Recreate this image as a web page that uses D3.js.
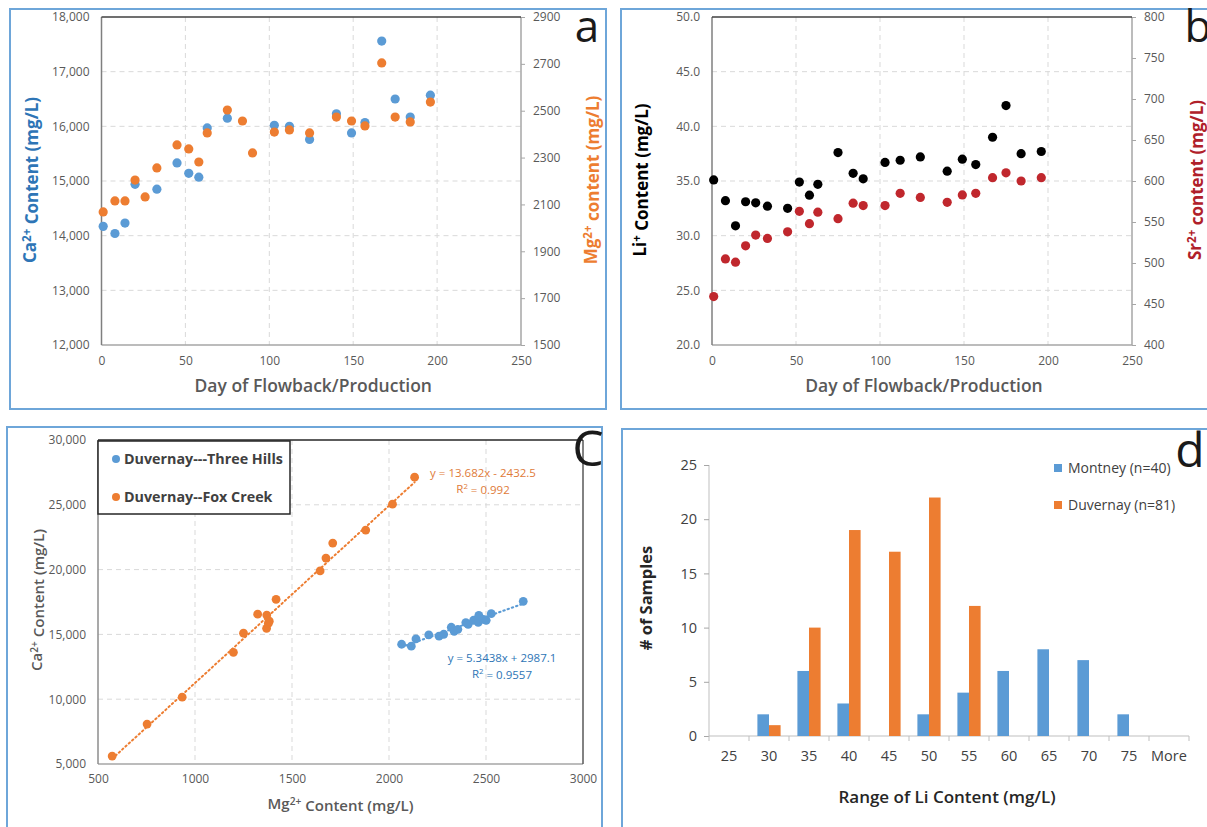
<!DOCTYPE html>
<html>
<head>
<meta charset="utf-8">
<script src="https://cdn.jsdelivr.net/npm/d3@7"></script>
<style>
  body { margin: 0; background: #fff; }
  svg text { font-family: "Open Sans", "Noto Sans", sans-serif; }
</style>
</head>
<body>
<div id="fig"></div>
<script>
// ---- panels a & b: day of flowback/production ----
const days = [1, 8, 14, 20, 26, 33, 45, 52, 58, 63, 75, 84, 90, 103, 112, 124, 140, 149, 157, 167, 175, 184, 196];
// null = point hidden behind the orange marker in the original
const caByDay = [14170, 14040, 14230, 14940, null, 14850, 15330, 15140, 15070, 15970, 16150, null, null, 16020, 16000, 15760, 16230, 15880, 16070, 17560, 16500, 16170, 16570];
const mgByDay = [2068, 2115, 2115, 2204, 2132, 2256, 2354, 2337, 2281, 2405, 2503, 2456, 2320, 2409, 2418, 2405, 2473, 2456, 2435, 2704, 2473, 2452, 2537];
const liByDay = [35.1, 33.2, 30.9, 33.1, 33.0, 32.7, 32.5, 34.9, 33.7, 34.7, 37.6, 35.7, 35.2, 36.7, 36.9, 37.2, 35.9, 37.0, 36.5, 39.0, 41.9, 37.5, 37.7];
const srByDay = [459, 505, 501, 521, 534, 530, 538, 563, 548, 562, 554, 573, 570, 570, 585, 580, 574, 583, 585, 604, 610, 600, 604];

// ---- panel c: Ca vs Mg ----
const threeHillsMg = [2065, 2115, 2139, 2205, 2258, 2282, 2321, 2336, 2355, 2396, 2408, 2436, 2460, 2463, 2486, 2501, 2527, 2692];
const threeHillsCa = [14240, 14090, 14650, 14960, 14860, 15010, 15550, 15240, 15390, 15910, 15780, 16090, 15930, 16470, 16160, 16090, 16600, 17550];
const foxCreekMg = [573, 753, 934, 1198, 1250, 1323, 1369, 1370, 1378, 1383, 1418, 1645, 1675, 1710, 1880, 2018, 2132];
const foxCreekCa = [5610, 8080, 10160, 13620, 15090, 16560, 15470, 16490, 15850, 16020, 17710, 19900, 20890, 22050, 23050, 25050, 27130];
const threeHillsFit = { slope: 5.3438, intercept: 2987.1, label: "y = 5.3438x + 2987.1", r2: "0.9557" };
const foxCreekFit = { slope: 13.682, intercept: -2432.5, label: "y = 13.682x - 2432.5", r2: "0.992" };

// ---- panel d: Li histogram ----
const liBins = ["25", "30", "35", "40", "45", "50", "55", "60", "65", "70", "75", "More"];
const montneyCounts = [0, 2, 6, 3, 0, 2, 4, 6, 8, 7, 2, 0];
const duvernayCounts = [0, 1, 10, 19, 17, 22, 12, 0, 0, 0, 0, 0];

const BLUE = "#5b9bd5", ORANGE = "#ed7d31", RED = "#c0272d";
const FRAME = "#6ea6d9", GRID = "#d9d9d9", TXT = "#595959";

const svg = d3.select("#fig").append("svg").attr("width", 1207).attr("height", 827);

// text with superscript parts, e.g. [["Ca"], ["2+", true], [" Content"]]
function richText(g, x, y, parts, opts) {
  const t = g.append("text")
    .attr("transform", `translate(${x},${y}) rotate(${opts.rotate || 0})`)
    .attr("text-anchor", "middle")
    .attr("font-size", opts.size)
    .attr("font-weight", opts.weight || 400)
    .attr("fill", opts.color || TXT);
  let raised = false;
  parts.forEach(([s, sup]) => {
    const sp = t.append("tspan").text(s);
    if (sup && !raised) { sp.attr("dy", "-0.42em").attr("font-size", "68%"); raised = true; }
    else if (sup) sp.attr("font-size", "68%");
    else if (raised) { sp.attr("dy", "0.42em"); raised = false; }
  });
  return t;
}

function frame(x, y, w, h) {
  svg.append("rect").attr("x", x).attr("y", y).attr("width", w).attr("height", h)
    .attr("fill", "none").attr("stroke", FRAME).attr("stroke-width", 2);
}

function styleAxis(sel, size, color) {
  sel.select(".domain").remove();
  sel.selectAll(".tick line").attr("stroke", "#a6a6a6");
  sel.selectAll(".tick text").attr("font-size", size).attr("fill", color)
    .attr("font-family", '"Open Sans", sans-serif');
}

// plot frame lines: top/right dark, left/bottom grey (as in the Excel export)
function plotBorder(g, L, R, T, B, topC, leftC, rightC, bottomC) {
  g.append("line").attr("x1", L).attr("x2", R).attr("y1", B).attr("y2", B).attr("stroke", bottomC).attr("stroke-width", 1.5);
  g.append("line").attr("x1", R).attr("x2", R).attr("y1", T).attr("y2", B).attr("stroke", rightC).attr("stroke-width", 1.5);
  g.append("line").attr("x1", L).attr("x2", L).attr("y1", T).attr("y2", B).attr("stroke", leftC).attr("stroke-width", 1.5);
  g.append("line").attr("x1", L).attr("x2", R).attr("y1", T).attr("y2", T).attr("stroke", topC).attr("stroke-width", 1.5);
}

function dualScatter(o) {
  const g = svg.append("g");
  const x = d3.scaleLinear().domain([0, 250]).range([o.L, o.R]);
  const yL = d3.scaleLinear().domain(o.leftDomain).range([o.B, o.T]);
  const yR = d3.scaleLinear().domain(o.rightDomain).range([o.B, o.T]);

  g.append("g").selectAll("line").data(x.ticks(5).filter(v => v > 0 && v < 250)).join("line")
    .attr("x1", d => x(d)).attr("x2", d => x(d)).attr("y1", o.T).attr("y2", o.B)
    .attr("stroke", GRID).attr("stroke-dasharray", "5,4");
  g.append("g").selectAll("line").data(o.leftTicks.slice(1, -1)).join("line")
    .attr("x1", o.L).attr("x2", o.R).attr("y1", d => yL(d)).attr("y2", d => yL(d))
    .attr("stroke", GRID).attr("stroke-dasharray", "5,4");

  plotBorder(g, o.L, o.R, o.T, o.B, "#404040", "#7f7f7f", "#a6a6a6", "#a6a6a6");

  g.append("g").call(d3.axisLeft(yL).tickValues(o.leftTicks).tickSize(0).tickPadding(12).tickFormat(o.leftFormat))
    .attr("transform", `translate(${o.L},0)`).call(s => styleAxis(s, 12, TXT));
  g.append("g").call(d3.axisRight(yR).tickValues(o.rightTicks).tickSize(4).tickPadding(8).tickFormat(d3.format("d")))
    .attr("transform", `translate(${o.R},0)`).call(s => styleAxis(s, 12, TXT));
  g.append("g").call(d3.axisBottom(x).ticks(5).tickSize(0).tickPadding(11))
    .attr("transform", `translate(0,${o.B})`).call(s => styleAxis(s, 12, TXT));

  const s1 = days.map((d, i) => ({ d, v: o.leftValues[i] })).filter(p => p.v != null);
  const s2 = days.map((d, i) => ({ d, v: o.rightValues[i] })).filter(p => p.v != null);
  g.append("g").selectAll("circle").data(s1).join("circle")
    .attr("cx", p => x(p.d)).attr("cy", p => yL(p.v)).attr("r", 4.6).attr("fill", o.leftColor);
  g.append("g").selectAll("circle").data(s2).join("circle")
    .attr("cx", p => x(p.d)).attr("cy", p => yR(p.v)).attr("r", 4.6).attr("fill", o.rightColor);

  g.append("text").attr("x", (o.L + o.R) / 2 + 2).attr("y", 392).attr("text-anchor", "middle")
    .attr("font-size", 17.5).attr("font-weight", 600).attr("fill", TXT).text("Day of Flowback/Production");
  richText(g, o.leftTitleX, 180, o.leftTitle, { rotate: -90, size: 17, weight: 700, color: o.leftTitleColor });
  richText(g, o.rightTitleX, 180, o.rightTitle, { rotate: -90, size: 17, weight: 700, color: o.rightTitleColor });
  g.append("text").attr("x", o.R + 66).attr("y", 42).attr("text-anchor", "middle")
    .attr("font-size", 44).attr("fill", "#1a1a1a").text(o.letter);
}

// ---------- panel a ----------
frame(10, 9, 596, 400);
dualScatter({
  L: 101.5, R: 521, T: 17, B: 345,
  leftDomain: [12000, 18000], rightDomain: [1500, 2900],
  leftTicks: d3.range(12000, 18001, 1000), rightTicks: d3.range(1500, 2901, 200),
  leftFormat: d3.format(","),
  leftValues: caByDay, rightValues: mgByDay,
  leftColor: BLUE, rightColor: ORANGE,
  leftTitle: [["Ca"], ["2+", true], [" Content (mg/L)"]], leftTitleX: 36, leftTitleColor: "#2e75b6",
  rightTitle: [["Mg"], ["2+", true], [" content (mg/L)"]], rightTitleX: 597, rightTitleColor: ORANGE,
  letter: "a"
});

// ---------- panel b ----------
frame(621, 9, 600, 400);
dualScatter({
  L: 712, R: 1132, T: 17, B: 345,
  leftDomain: [20, 50], rightDomain: [400, 800],
  leftTicks: d3.range(20, 50.1, 5), rightTicks: d3.range(400, 801, 50),
  leftFormat: d3.format(".1f"),
  leftValues: liByDay, rightValues: srByDay,
  leftColor: "#000", rightColor: RED,
  leftTitle: [["Li"], ["+", true], [" Content (mg/L)"]], leftTitleX: 646, leftTitleColor: "#000",
  rightTitle: [["Sr"], ["2+", true], [" content (mg/L)"]], rightTitleX: 1201, rightTitleColor: "#b0202a",
  letter: "b"
});

// ---------- panel c ----------
frame(7, 427, 595, 420);
(function () {
  const g = svg.append("g");
  const L = 98, R = 583, T = 440, B = 764;
  const x = d3.scaleLinear().domain([500, 3000]).range([L, R]);
  const y = d3.scaleLinear().domain([5000, 30000]).range([B, T]);

  g.append("g").selectAll("line").data(d3.range(1000, 2501, 500)).join("line")
    .attr("x1", d => x(d)).attr("x2", d => x(d)).attr("y1", T).attr("y2", B)
    .attr("stroke", GRID).attr("stroke-dasharray", "5,4");
  g.append("g").selectAll("line").data(d3.range(10000, 25001, 5000)).join("line")
    .attr("x1", L).attr("x2", R).attr("y1", d => y(d)).attr("y2", d => y(d))
    .attr("stroke", GRID).attr("stroke-dasharray", "5,4");
  plotBorder(g, L, R, T, B, "#262626", "#8c8c8c", "#595959", "#a6a6a6");

  g.append("g").attr("transform", `translate(${L},0)`)
    .call(d3.axisLeft(y).tickValues(d3.range(5000, 30001, 5000)).tickSize(0).tickPadding(12).tickFormat(d3.format(",")))
    .call(s => styleAxis(s, 12, TXT));
  g.append("g").attr("transform", `translate(0,${B})`)
    .call(d3.axisBottom(x).tickValues(d3.range(500, 3001, 500)).tickSize(0).tickPadding(10).tickFormat(d3.format("d")))
    .call(s => styleAxis(s, 12, TXT));

  const fits = [
    { mg: threeHillsMg, fit: threeHillsFit, color: BLUE },
    { mg: foxCreekMg, fit: foxCreekFit, color: ORANGE }
  ];
  fits.forEach(f => {
    const ext = d3.extent(f.mg);
    g.append("path")
      .attr("d", d3.line()(ext.map(v => [x(v), y(f.fit.slope * v + f.fit.intercept)])))
      .attr("stroke", f.color).attr("stroke-width", 2).attr("stroke-dasharray", "1.5,3")
      .attr("stroke-linecap", "round").attr("fill", "none");
  });

  g.append("g").selectAll("circle").data(threeHillsMg.map((m, i) => [m, threeHillsCa[i]])).join("circle")
    .attr("cx", d => x(d[0])).attr("cy", d => y(d[1])).attr("r", 4.4).attr("fill", BLUE);
  g.append("g").selectAll("circle").data(foxCreekMg.map((m, i) => [m, foxCreekCa[i]])).join("circle")
    .attr("cx", d => x(d[0])).attr("cy", d => y(d[1])).attr("r", 4.4).attr("fill", ORANGE);

  // equations
  const eq = [
    { fit: foxCreekFit, cx: 483, cy: 477, color: "#e07b39" },
    { fit: threeHillsFit, cx: 502, cy: 662, color: "#2e75b6" }
  ];
  eq.forEach(e => {
    g.append("text").attr("x", e.cx).attr("y", e.cy).attr("text-anchor", "middle")
      .attr("font-size", 11.5).attr("fill", e.color).text(e.fit.label);
    richText(g, e.cx, e.cy + 15.5, [["R"], ["2", true], [" = " + e.fit.r2]], { size: 11.5, color: e.color });
  });

  // legend
  g.append("rect").attr("x", 98).attr("y", 441).attr("width", 192).attr("height", 73)
    .attr("fill", "#fff").attr("stroke", "#262626").attr("stroke-width", 1.5);
  [["Duvernay---Three Hills", BLUE, 459], ["Duvernay--Fox Creek", ORANGE, 497]].forEach(([name, c, yy]) => {
    g.append("circle").attr("cx", 116).attr("cy", yy).attr("r", 4).attr("fill", c);
    g.append("text").attr("x", 124).attr("y", yy + 5).attr("font-size", 14.3).attr("font-weight", 700)
      .attr("fill", "#404040").text(name);
  });

  richText(g, (L + R) / 2, 809, [["Mg"], ["2+", true], [" Content (mg/L)"]], { size: 15, weight: 600, color: TXT });
  richText(g, 42, 600, [["Ca"], ["2+", true], [" Content (mg/L)"]], { rotate: -90, size: 15, weight: 600, color: TXT });
  g.append("text").attr("x", 588).attr("y", 466).attr("text-anchor", "middle")
    .attr("font-size", 50).attr("fill", "#1a1a1a").text("C");
})();

// ---------- panel d ----------
frame(622, 429, 600, 420);
(function () {
  const g = svg.append("g");
  const L = 709, R = 1189, T = 465, B = 736;
  const x = d3.scaleBand().domain(liBins).range([L, R]);
  const series = ["Montney", "Duvernay"];
  const xs = d3.scaleBand().domain(series).range([x.bandwidth() * 0.21, x.bandwidth() * 0.79]);
  const y = d3.scaleLinear().domain([0, 25]).range([B, T]);
  const counts = { Montney: montneyCounts, Duvernay: duvernayCounts };
  const colors = { Montney: BLUE, Duvernay: ORANGE };

  g.append("line").attr("x1", L).attr("x2", L).attr("y1", T).attr("y2", B).attr("stroke", "#bfbfbf");
  g.append("line").attr("x1", L).attr("x2", R).attr("y1", B).attr("y2", B).attr("stroke", "#bfbfbf");
  g.append("g").attr("transform", `translate(${L},0)`)
    .call(d3.axisLeft(y).tickValues(d3.range(0, 26, 5)).tickSize(5).tickPadding(7))
    .call(s => styleAxis(s, 14.5, "#404040"));
  g.append("g").selectAll("line").data(d3.range(liBins.length + 1)).join("line")
    .attr("x1", i => L + i * x.step()).attr("x2", i => L + i * x.step())
    .attr("y1", B).attr("y2", B + 5).attr("stroke", "#bfbfbf");
  g.append("g").attr("transform", `translate(0,${B})`)
    .call(d3.axisBottom(x).tickSize(0).tickPadding(15))
    .call(s => styleAxis(s, 14.5, "#404040"));

  series.forEach(sname => {
    g.append("g").selectAll("rect").data(liBins.map((b, i) => ({ b, v: counts[sname][i] }))).join("rect")
      .attr("x", d => x(d.b) + xs(sname)).attr("width", xs.bandwidth())
      .attr("y", d => y(d.v)).attr("height", d => B - y(d.v)).attr("fill", colors[sname]);
  });

  [["Montney (n=40)", BLUE, 468], ["Duvernay (n=81)", ORANGE, 505]].forEach(([name, c, yy]) => {
    g.append("rect").attr("x", 1054).attr("y", yy - 4).attr("width", 8).attr("height", 8).attr("fill", c);
    g.append("text").attr("x", 1068).attr("y", yy + 5).attr("font-size", 14).attr("fill", "#404040").text(name);
  });

  g.append("text").attr("x", 947).attr("y", 803).attr("text-anchor", "middle")
    .attr("font-size", 17).attr("font-weight", 600).attr("fill", "#262626").text("Range of Li Content (mg/L)");
  g.append("text").attr("transform", "translate(652,598) rotate(-90)").attr("text-anchor", "middle")
    .attr("font-size", 16.5).attr("font-weight", 700).attr("fill", "#262626").text("# of Samples");
  g.append("text").attr("x", 1190).attr("y", 467).attr("text-anchor", "middle")
    .attr("font-size", 48).attr("fill", "#1a1a1a").text("d");
})();
</script>
</body>
</html>
